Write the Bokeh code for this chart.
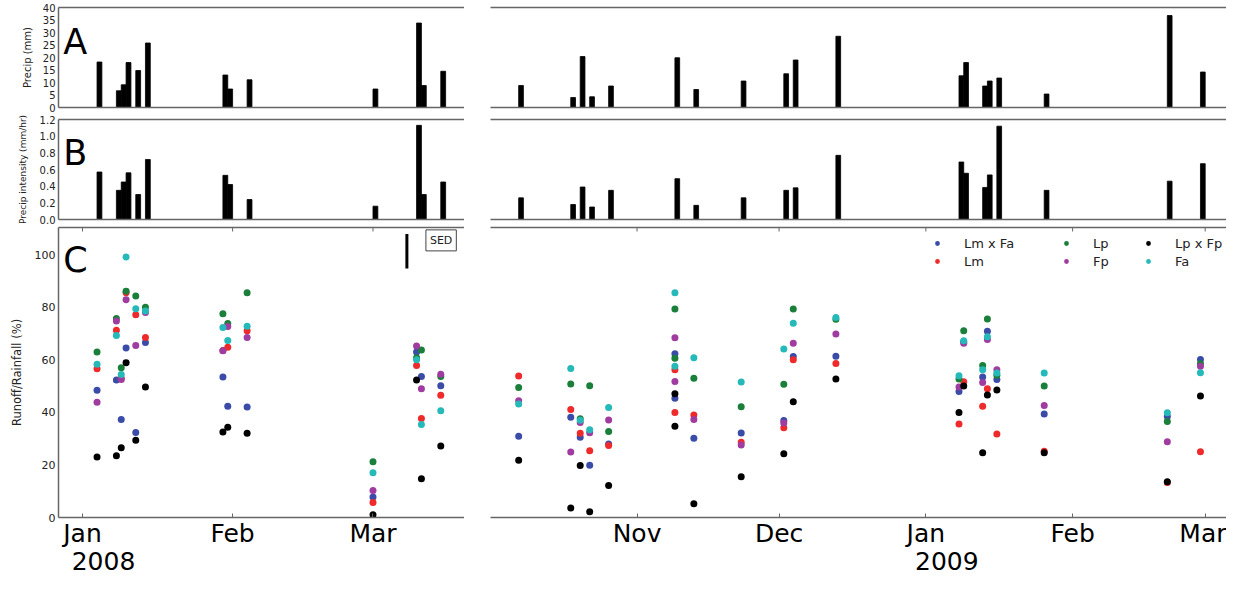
import math
import pandas as pd
from bokeh.plotting import figure
from bokeh.models import (ColumnDataSource, Range1d, DatetimeAxis, LinearAxis,
                          FixedTicker, PrintfTickFormatter, Label, Legend, LegendItem)
from bokeh.layouts import column, row
from bokeh.embed import file_html
from bokeh.resources import INLINE

FONT = "DejaVu Sans"
GRAY = "#666666"
TXT = "#222222"

# ---------------- data ----------------
bar_dates = ["2008-01-04", "2008-01-08", "2008-01-09", "2008-01-10", "2008-01-12",
             "2008-01-14", "2008-01-30", "2008-01-31", "2008-02-04", "2008-03-01",
             "2008-03-10", "2008-03-11", "2008-03-15",
             "2008-10-07", "2008-10-18", "2008-10-20", "2008-10-22", "2008-10-26",
             "2008-11-09", "2008-11-13", "2008-11-23", "2008-12-02", "2008-12-04",
             "2008-12-13", "2009-01-08", "2009-01-09", "2009-01-13", "2009-01-14",
             "2009-01-16", "2009-01-26", "2009-02-21", "2009-02-28"]
precip_mm = [18.2, 6.7, 9.1, 18.0, 14.8, 25.8, 13.0, 7.4, 11.1, 7.4, 33.8, 8.8, 14.5,
             8.8, 4.0, 20.4, 4.3, 8.6, 19.9, 7.2, 10.6, 13.5, 19.0, 28.5,
             12.7, 18.0, 8.6, 10.6, 11.8, 5.4, 36.8, 14.2]
intensity = [0.57, 0.35, 0.45, 0.56, 0.30, 0.72, 0.53, 0.42, 0.24, 0.16, 1.13, 0.30, 0.45,
             0.26, 0.18, 0.39, 0.15, 0.35, 0.49, 0.17, 0.26, 0.35, 0.38, 0.77,
             0.69, 0.555, 0.385, 0.535, 1.12, 0.35, 0.46, 0.67]

runoff_dates = ["2008-01-04", "2008-01-08", "2008-01-09", "2008-01-10", "2008-01-12",
                "2008-01-14", "2008-01-30", "2008-01-31", "2008-02-04", "2008-03-01",
                "2008-03-10", "2008-03-11", "2008-03-15",
                "2008-10-07", "2008-10-18", "2008-10-20", "2008-10-22", "2008-10-26",
                "2008-11-09", "2008-11-09", "2008-11-13", "2008-11-23", "2008-12-02",
                "2008-12-04", "2008-12-13", "2009-01-08", "2009-01-09", "2009-01-13",
                "2009-01-14", "2009-01-16", "2009-01-26", "2009-02-21", "2009-02-28"]
lm_x_fa = [48.4, 52.3, 37.3, 64.5, 32.3, 66.6, 53.4, 42.3, 42.0, 7.8, 62.9, 53.6, 50.1,
           30.9, 38.1, 30.5, 19.9, 28.0, 62.3, 45.4, 30.1, 32.1, 36.9, 61.2, 61.3,
           47.9, 66.8, 53.4, 70.8, 52.5, 39.4, 38.4, 60.1]
lm = [56.6, 71.2, 53.0, 85.5, 77.1, 68.5, 63.5, 64.8, 71.0, 5.7, 57.8, 37.7, 46.5,
      53.8, 41.1, 32.0, 25.4, 27.4, 56.2, 39.9, 39.0, 28.6, 34.1, 60.0, 58.6,
      35.6, 51.6, 42.3, 49.0, 31.8, 25.2, 13.3, 25.0]
lp = [62.9, 75.7, 57.0, 86.1, 84.2, 80.0, 77.5, 73.8, 85.5, 21.2, 60.8, 63.7, 53.6,
      49.4, 50.8, 37.6, 50.1, 32.7, 79.3, 60.6, 53.0, 42.1, 50.7, 79.3, 75.4,
      52.7, 71.0, 57.8, 75.5, 54.1, 50.0, 36.5, 58.5]
fp = [43.8, 74.7, 52.5, 82.8, 65.4, 78.0, 63.4, 72.6, 68.5, 10.3, 65.2, 49.0, 54.5,
      44.4, 24.9, 36.1, 32.2, 37.1, 68.4, 51.7, 37.3, 27.6, 35.9, 66.3, 69.8,
      49.6, 66.3, 51.3, 67.7, 56.2, 42.6, 28.8, 57.5]
lp_x_fp = [23.0, 23.5, 26.5, 58.9, 29.4, 49.6, 32.5, 34.3, 32.0, 1.0, 52.3, 14.7, 27.2,
           21.8, 3.6, 19.8, 2.2, 12.2, 47.1, 34.7, 5.2, 15.5, 24.2, 44.0, 52.7,
           39.9, 50.0, 24.6, 46.6, 48.5, 24.6, 13.6, 46.2]
fa = [58.3, 69.2, 54.4, 99.1, 79.4, 78.5, 72.3, 67.3, 72.7, 17.0, 60.0, 35.4, 40.6,
      43.2, 56.7, 37.0, 33.4, 41.8, 85.5, 57.5, 60.8, 51.5, 64.1, 73.9, 76.1,
      53.9, 67.2, 56.2, 68.7, 55.0, 55.0, 39.8, 55.1]

series_names = ["Lm x Fa", "Lm", "Lp", "Fp", "Lp x Fp", "Fa"]
series_values = [lm_x_fa, lm, lp, fp, lp_x_fp, fa]
series_colors = ["#3a4ca8", "#ee2a2a", "#1a7f3a", "#a03ca0", "#000000", "#25b9b9"]

left_ticks = ["2008-01-01", "2008-02-01", "2008-03-01"]
left_tick_labels = ["Jan", "Feb", "Mar"]
right_ticks = ["2008-11-01", "2008-12-01", "2009-01-01", "2009-02-01", "2009-03-01"]
right_tick_labels = ["Nov", "Dec", "Jan", "Feb", "Mar"]
left_year = ("2008-01-01", "2008")
right_year = ("2009-01-01", "2009")

precip_ticks = [0, 5, 10, 15, 20, 25, 30, 35, 40]
intensity_ticks = [0.0, 0.2, 0.4, 0.6, 0.8, 1.0, 1.2]
runoff_ticks = [0, 20, 40, 60, 80, 100]

sed_date = "2008-03-08"
sed_top = 107.8
sed_value = 13.1

# ---------------- helpers ----------------
DAY = 86400000.0


def ms(d):
    return pd.Timestamp(d).value / 1e6


LW, RW = 464, 762
LEFT_BORDER, GAP = 58, 26
left_xr = (ms("2008-01-01") - 4.96 * DAY, ms("2008-01-01") + 78.9 * DAY)
right_xr = (ms("2008-11-01") - 30.95 * DAY, ms("2009-03-01") + 4.5 * DAY)


def bar_source(xr):
    keep = [i for i, d in enumerate(bar_dates) if xr[0] <= ms(d) <= xr[1]]
    return ColumnDataSource(dict(x=[ms(bar_dates[i]) + DAY / 2 for i in keep],
                                 precip=[precip_mm[i] for i in keep],
                                 intensity=[intensity[i] for i in keep]))


def run_source(xr):
    keep = [i for i, d in enumerate(runoff_dates) if xr[0] <= ms(d) <= xr[1]]
    data = dict(x=[ms(runoff_dates[i]) for i in keep])
    for name, vals in zip(series_names, series_values):
        data[name] = [vals[i] for i in keep]
    return ColumnDataSource(data)


bar_src = {"L": bar_source(left_xr), "R": bar_source(right_xr)}
run_src = {"L": run_source(left_xr), "R": run_source(right_xr)}


def make_fig(width, height, xr, yr, left, top_b, bot_b):
    p = figure(width=width, height=height, x_range=Range1d(*xr), y_range=Range1d(*yr),
               x_axis_type="datetime", x_axis_location=None, y_axis_location=None,
               toolbar_location=None, output_backend="svg",
               min_border_left=LEFT_BORDER if left else GAP, min_border_right=0,
               min_border_top=top_b, min_border_bottom=bot_b)
    p.outline_line_color = None
    p.grid.visible = False
    return p


def frame_axes(p, ticks, labels, with_labels, yr_top, year=None, frame_w=None):
    tick_ms = [ms(t) for t in ticks]
    top = DatetimeAxis(ticker=FixedTicker(ticks=[]), axis_line_color=GRAY,
                       axis_line_width=1.5, major_tick_in=0, major_tick_out=0,
                       minor_tick_line_color=None, major_label_standoff=0)
    p.add_layout(top, "above")
    bottom = DatetimeAxis(ticker=FixedTicker(ticks=tick_ms if with_labels else []),
                          axis_line_color=GRAY, axis_line_width=1.5,
                          major_tick_line_color=GRAY, major_tick_line_width=1,
                          major_tick_in=4, major_tick_out=0,
                          minor_tick_line_color=None, major_label_standoff=1)
    if with_labels:
        bottom.major_label_overrides = {t: l for t, l in zip(tick_ms, labels)}
        bottom.major_label_text_font = FONT
        bottom.major_label_text_font_size = "25px"
        bottom.major_label_text_color = "black"
        # small inward ticks under the top frame line
        p.ray(x=tick_ms, y=[yr_top] * len(tick_ms), length=4, length_units="screen",
              angle=-math.pi / 2, line_color=GRAY, line_width=1)
    p.add_layout(bottom, "below")
    if year is not None:
        # second row of tick text: the year, set a little right of the January tick
        xr = p.x_range
        px_per_ms = frame_w / (xr.end - xr.start)
        yt = ms(year[0]) + 21.0 / px_per_ms
        yax = DatetimeAxis(ticker=FixedTicker(ticks=[yt]),
                           major_label_overrides={yt: year[1]},
                           axis_line_color=None, major_tick_line_color=None,
                           major_tick_in=0, major_tick_out=0,
                           minor_tick_line_color=None, major_label_standoff=1,
                           major_label_text_font=FONT, major_label_text_font_size="25px",
                           major_label_text_color="black")
        p.add_layout(yax, "below")


def y_axis(p, ticks, label, fmt=None, tick_size="10px", label_size="10px", standoff=6):
    ax = LinearAxis(ticker=FixedTicker(ticks=ticks), axis_label=label,
                    axis_line_color=GRAY, axis_line_width=1.5,
                    major_tick_line_color=None, major_tick_in=0, major_tick_out=0,
                    minor_tick_line_color=None,
                    major_label_text_font=FONT, major_label_text_font_size=tick_size,
                    major_label_text_color=TXT, major_label_standoff=3,
                    axis_label_text_font=FONT, axis_label_text_font_size=label_size,
                    axis_label_text_font_style="normal", axis_label_text_color=TXT,
                    axis_label_standoff=standoff)
    if fmt:
        ax.formatter = PrintfTickFormatter(format=fmt)
    p.add_layout(ax, "left")


def letter(p, text, y):
    p.add_layout(Label(x=ms("2007-12-28"), y=y, text=text, text_font=FONT,
                       text_font_size="35px", text_color="black",
                       text_baseline="alphabetic", text_align="left"))


# ---------------- row A ----------------
a_yr = (0, 40)
a_left = make_fig(LW, 113, left_xr, a_yr, True, 7, 6)
a_right = make_fig(RW, 113, right_xr, a_yr, False, 7, 6)
for p, k in ((a_left, "L"), (a_right, "R")):
    p.vbar(x="x", width=DAY, top="precip", bottom=0, source=bar_src[k],
           fill_color="black", line_color="black", line_width=0.8)
frame_axes(a_left, left_ticks, left_tick_labels, False, a_yr[1])
frame_axes(a_right, right_ticks, right_tick_labels, False, a_yr[1])
y_axis(a_left, precip_ticks, "Precip (mm)", standoff=7)
letter(a_left, "A", 26.2)

# ---------------- row B ----------------
b_yr = (0, 1.2)
b_left = make_fig(LW, 112, left_xr, b_yr, True, 6, 6)
b_right = make_fig(RW, 112, right_xr, b_yr, False, 6, 6)
for p, k in ((b_left, "L"), (b_right, "R")):
    p.vbar(x="x", width=DAY, top="intensity", bottom=0, source=bar_src[k],
           fill_color="black", line_color="black", line_width=0.8)
frame_axes(b_left, left_ticks, left_tick_labels, False, b_yr[1])
frame_axes(b_right, right_ticks, right_tick_labels, False, b_yr[1])
y_axis(b_left, intensity_ticks, "Precip intensity (mm/hr)", fmt="%.1f",
       label_size="9px", standoff=9)
letter(b_left, "B", 0.804)

# ---------------- row C ----------------
c_yr = (0, 110.3)
c_left = make_fig(LW, 354, left_xr, c_yr, True, 2, 62)
c_right = make_fig(RW, 354, right_xr, c_yr, False, 2, 62)
renderers = []
for p, k in ((c_left, "L"), (c_right, "R")):
    rs = []
    for name, color in zip(series_names, series_colors):
        r = p.scatter(x="x", y=name, source=run_src[k], size=7, fill_color=color,
                      line_color=None)
        rs.append(r)
    renderers.append(rs)
frame_axes(c_left, left_ticks, left_tick_labels, True, c_yr[1],
           year=left_year, frame_w=LW - LEFT_BORDER)
frame_axes(c_right, right_ticks, right_tick_labels, True, c_yr[1],
           year=right_year, frame_w=RW - GAP)
y_axis(c_left, runoff_ticks, "Runoff/Rainfall (%)", tick_size="11px",
       label_size="11.5px", standoff=8)
letter(c_left, "C", 97.9)

# SED bar and box
c_left.segment(x0=[ms(sed_date)], y0=[sed_top - sed_value], x1=[ms(sed_date)],
               y1=[sed_top], line_color="black", line_width=3)
c_left.add_layout(Label(x=ms("2008-01-01") + 74.07 * DAY, y=105.4, text="SED",
                        text_font=FONT, text_font_size="11px", text_color=TXT,
                        text_align="center", text_baseline="middle",
                        border_line_color="#444444", border_line_width=1,
                        background_fill_color="white", padding=4))

# Legend: three columns of two entries
legend_x = [441, 570, 652]
for col in range(3):
    idx = [2 * col, 2 * col + 1]
    items = [LegendItem(label=series_names[i], renderers=[renderers[1][i]]) for i in idx]
    lg = Legend(items=items, location=(legend_x[col], 247), orientation="vertical",
                border_line_color=None, background_fill_alpha=0,
                label_text_font=FONT, label_text_font_size="13px",
                label_text_color=TXT, glyph_width=12, glyph_height=18,
                label_height=18, spacing=0, padding=0, margin=0,
                label_standoff=21)
    c_right.add_layout(lg, "center")

layout = column(row(a_left, a_right), row(b_left, b_right), row(c_left, c_right))

open("out.html", "w").write(file_html(layout, INLINE))
